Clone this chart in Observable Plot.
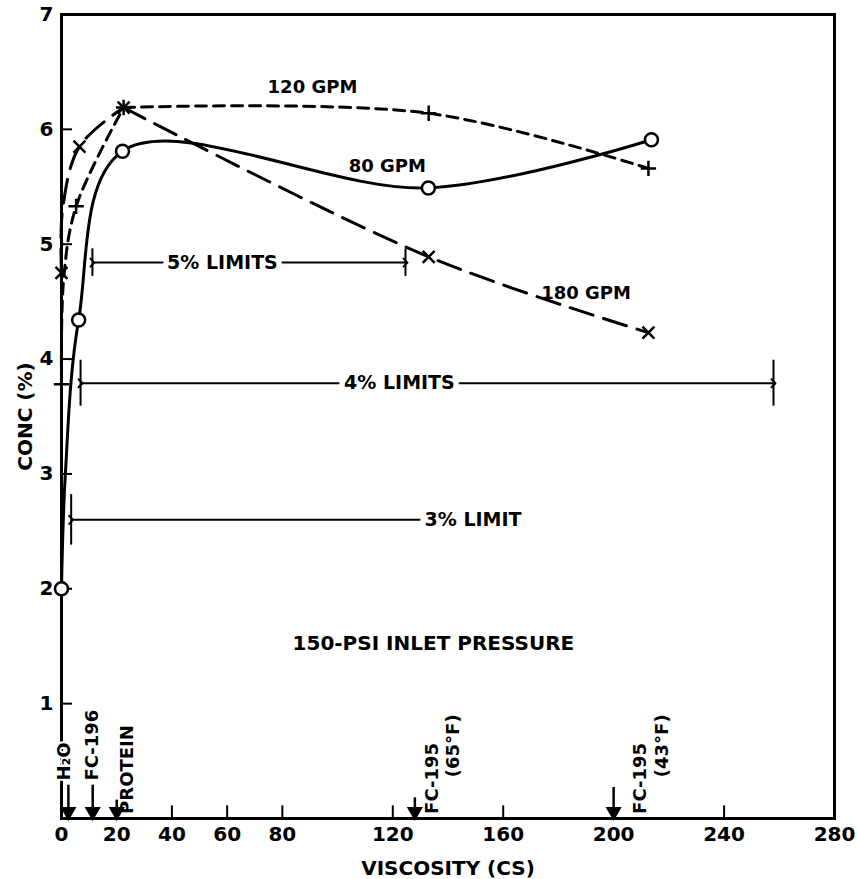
<!DOCTYPE html>
<html><head><meta charset="utf-8">
<script src="https://cdn.jsdelivr.net/npm/d3@7"></script>
<script src="https://cdn.jsdelivr.net/npm/@observablehq/plot@0.6"></script>
<style>body{margin:0;background:#fff}</style>
</head><body><div id="chart"></div>
<script>
// ---- data ----
const xTickLabels = [0, 20, 40, 60, 80, 120, 160, 200, 240, 280];
const xTickMarks = [40, 60, 80, 120, 160, 240];
const yTickLabels = [1, 2, 3, 4, 5, 6, 7];

// 80 GPM (solid, open circles)
const x80 = [0, 1.4, 6.2, 22.1, 132.9, 213.7];
const y80 = [2.0, 3.0, 4.34, 5.81, 5.49, 5.91];
const mark80 = [1, 0, 1, 1, 1, 1];
const peak80 = 3;
// 120 GPM (short dashes, plus)
const x120 = [0, 0.8, 5.3, 22.5, 133, 212.6];
const y120 = [3.78, 4.7, 5.33, 6.19, 6.14, 5.66];
const mark120 = [1, 0, 1, 1, 1, 1];
const peak120 = 3;
// 180 GPM (long dashes, times)
const x180 = [0, 0.4, 6.5, 22.5, 133, 212.6];
const y180 = [4.75, 5.3, 5.85, 6.19, 4.89, 4.23];
const mark180 = [1, 0, 1, 1, 1, 1];
const peak180 = 3;

// limit bands
const limitNames = ["5% LIMITS", "4% LIMITS", "3% LIMIT"];
const limitLo = [11.2, 6.9, 3.5];
const limitHi = [124.6, 257.9, 130];
const limitY = [4.84, 3.79, 2.60];
const limitBar = [0.12, 0.2, 0.22];
const limitLabelX = [58.3, 122.4, 131.5];

// fluid markers on the viscosity axis
const fluidX = [2.5, 11.3, 20, 128, 200];
const fluidTop = [0.29, 0.29, 0.16, 0.18, 0.27];
const tagText = ["H\u2082O", "FC-196", "PROTEIN", "FC-195", "(65°F)", "FC-195", "(43°F)"];
const tagX = [1.1, 11.2, 23.9, 134.2, 141.8, 209.5, 217.7];
const tagY = [0.33, 0.33, 0.04, 0.04, 0.36, 0.04, 0.36];

// curve labels
const curveNames = ["120 GPM", "80 GPM", "180 GPM", "150-PSI INLET PRESSURE"];
const curveLabelX = [90.9, 118, 190, 134.7];
const curveLabelY = [6.37, 5.68, 4.57, 1.52];

// ---- build tables ----
const series = (xs, ys, ms) => xs.map((x, i) => ({x, y: ys[i], m: ms[i]}));
const s80 = series(x80, y80, mark80);
const s120 = series(x120, y120, mark120);
const s180 = series(x180, y180, mark180);
const limits = limitNames.map((t, i) => ({t, lo: limitLo[i], hi: limitHi[i], y: limitY[i], b: limitBar[i], lx: limitLabelX[i]}));
const fluids = fluidX.map((x, i) => ({x, top: fluidTop[i]}));
const tags = tagText.map((t, i) => ({t, x: tagX[i], y: tagY[i]}));
const clabels = curveNames.map((t, i) => ({t, x: curveLabelX[i], y: curveLabelY[i]}));

const curveMarks = (s, peak, dash, splitRight) => {
  const opts = {x: "x", y: "y", curve: "catmull-rom", strokeWidth: 3, strokeDasharray: dash};
  if (!splitRight) return [Plot.line(s, opts)];
  return [Plot.line(s.slice(0, peak + 1), opts), Plot.line(s.slice(peak), opts)];
};

const F = "DejaVu Sans";
const chart = Plot.plot({
  width: 857, height: 879,
  marginLeft: 61, marginRight: 23, marginTop: 14, marginBottom: 61,
  x: {domain: [0, 280]},
  y: {domain: [0, 7]},
  style: {fontFamily: F, fontWeight: "bold", fontSize: "18px", color: "#000", background: "#fff"},
  marks: [
    Plot.frame({stroke: "#000", strokeWidth: 3}),
    Plot.axisX({ticks: xTickLabels, tickFormat: d3.format("d"), tickSize: 0, tickPadding: 8, fontSize: 20,
      label: "VISCOSITY (CS)", labelAnchor: "center", labelArrow: "none", labelOffset: 56}),
    Plot.axisY({ticks: yTickLabels, tickFormat: d3.format("d"), tickSize: 0, tickPadding: 8, fontSize: 20,
      label: "CONC (%)", labelAnchor: "center", labelArrow: "none", labelOffset: 44}),
    Plot.ruleY(yTickLabels.filter(d => d < 7), {x1: 0, x2: 4, strokeWidth: 2}),
    Plot.ruleX(xTickMarks, {y1: 0, y2: 0.11, strokeWidth: 2}),

    // limits
    Plot.link(limits.filter((d, i) => i < 2), {x1: "lo", x2: "hi", y1: "y", y2: "y", strokeWidth: 2, markerStart: "arrow", markerEnd: "arrow"}),
    Plot.link(limits.filter((d, i) => i === 2), {x1: "lo", x2: "hi", y1: "y", y2: "y", strokeWidth: 2, markerStart: "arrow"}),
    Plot.ruleX(limits, {x: "lo", y1: d => d.y - d.b, y2: d => d.y + d.b, strokeWidth: 2}),
    Plot.ruleX(limits.filter((d, i) => i < 2), {x: "hi", y1: d => d.y - d.b, y2: d => d.y + d.b, strokeWidth: 2}),
    Plot.text(limits.filter((d, i) => i < 2), {x: "lx", y: "y", text: "t", fontSize: 19, fill: "#000", stroke: "#fff", strokeWidth: 11}),
    Plot.text(limits.filter((d, i) => i === 2), {x: "lx", y: "y", text: "t", fontSize: 19, textAnchor: "start", fill: "#000"}),

    // curves
    ...curveMarks(s80, peak80, null, false),
    ...curveMarks(s120, peak120, "11,7", true),
    ...curveMarks(s180, peak180, "24,11", true),
    Plot.dot(s120.filter(d => d.m), {x: "x", y: "y", symbol: "plus", r: 5, stroke: "#000", strokeWidth: 2.5}),
    Plot.dot(s180.filter(d => d.m), {x: "x", y: "y", symbol: "times", r: 5.5, stroke: "#000", strokeWidth: 2.5}),
    Plot.dot(s80.filter(d => d.m), {x: "x", y: "y", r: 6.5, fill: "#fff", stroke: "#000", strokeWidth: 2.5}),

    // labels
    Plot.text(clabels.slice(0, 3), {x: "x", y: "y", text: "t", fontSize: 18, fill: "#000"}),
    Plot.text(clabels.slice(3), {x: "x", y: "y", text: "t", fontSize: 20, fill: "#000"}),

    // fluid tags + arrows
    Plot.text(tags, {x: "x", y: "y", text: "t", rotate: -90, textAnchor: "start", fontSize: 18, fill: "#000", stroke: "#fff", strokeWidth: 4}),
    Plot.ruleX(fluids, {x: "x", y1: 0, y2: "top", strokeWidth: 2.5}),
    Plot.dot(fluids, {x: "x", y: 0.06, symbol: "triangle", rotate: 180, r: 6, fill: "#000"})
  ]
});
document.getElementById("chart").appendChild(chart);
</script>
</body></html>
